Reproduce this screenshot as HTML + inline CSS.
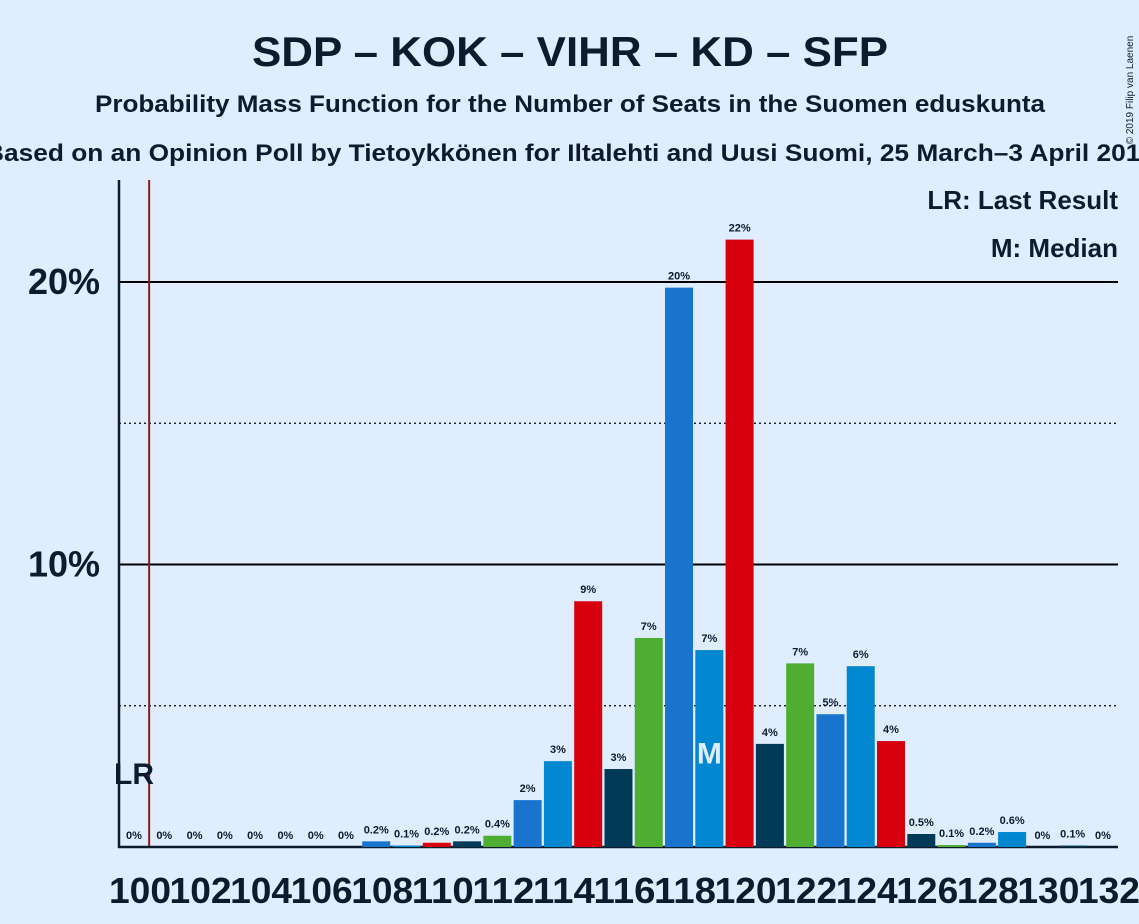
<!DOCTYPE html>
<html><head><meta charset="utf-8"><style>
html,body{margin:0;padding:0;background:#e0edff;}
svg{display:block;font-family:"Liberation Sans",sans-serif;}
</style></head><body>
<svg id="chart" width="1139" height="924" viewBox="0 0 1139 924">
<rect width="1139" height="924" fill="#e0edff"/>
<text x="570" y="66" text-anchor="middle" font-size="42" font-weight="bold" fill="#0d1b2a" textLength="636" lengthAdjust="spacingAndGlyphs">SDP – KOK – VIHR – KD – SFP</text>
<text x="570" y="112" text-anchor="middle" font-size="24" font-weight="bold" fill="#0d1b2a" textLength="950" lengthAdjust="spacingAndGlyphs">Probability Mass Function for the Number of Seats in the Suomen eduskunta</text>
<text x="570" y="161" text-anchor="middle" font-size="24" font-weight="bold" fill="#0d1b2a" textLength="1170" lengthAdjust="spacingAndGlyphs">Based on an Opinion Poll by Tietoykkönen for Iltalehti and Uusi Suomi, 25 March–3 April 2019</text>
<text x="1133" y="90" font-size="10" fill="#0d1b2a" transform="rotate(-90 1133 90)" text-anchor="middle">© 2019 Filip van Laenen</text>
<text x="1118" y="209" text-anchor="end" font-size="26" font-weight="bold" fill="#0d1b2a">LR: Last Result</text>
<text x="1118" y="257" text-anchor="end" font-size="26" font-weight="bold" fill="#0d1b2a">M: Median</text>
<g id="grid"></g>
<g id="bars"></g>
<g id="xlabels"></g>
</svg>
<script>
const seats = [100,101,102,103,104,105,106,107,108,109,110,111,112,113,114,115,116,117,118,119,120,121,122,123,124,125,126,127,128,129,130,131,132];
const probs = [0,0,0,0,0,0,0,0,0.2,0.05,0.15,0.2,0.4,1.66,3.04,8.7,2.76,7.4,19.8,6.97,21.5,3.65,6.5,4.7,6.4,3.75,0.46,0.07,0.15,0.53,0,0.05,0];
const valueLabels = ["0%","0%","0%","0%","0%","0%","0%","0%","0.2%","0.1%","0.2%","0.2%","0.4%","2%","3%","9%","3%","7%","20%","7%","22%","4%","7%","5%","6%","4%","0.5%","0.1%","0.2%","0.6%","0%","0.1%","0%"];
const yTicks = [5,10,15,20];
const yTickLabels = {10:"10%",20:"20%"};
const lastResult = 100.5;
const medianSeat = 119;
const palette = ["#1874cd","#0087d0","#d7000f","#003a57","#4fae32"];

const NS="http://www.w3.org/2000/svg";
const x0=134, step=30.28, y0=847, pxPerPct=28.25;
const xs=s=>x0+(s-100)*step;
const ys=v=>y0-v*pxPerPct;
function mk(tag,attrs,parent,txt){const e=document.createElementNS(NS,tag);for(const k in attrs)e.setAttribute(k,attrs[k]);if(txt!==undefined)e.textContent=txt;parent.appendChild(e);return e;}
const grid=document.getElementById('grid'),bars=document.getElementById('bars'),xl=document.getElementById('xlabels');
yTicks.forEach(t=>{
  const solid=t%10===0;
  const l=mk('line',{x1:119,x2:1118,y1:ys(t),y2:ys(t),stroke:'#000','stroke-width':solid?2:1.3,'stroke-dasharray':solid?'':'2,3'},grid);
  
  
  if(yTickLabels[t]){
    const tx=mk('text',{x:100,y:ys(t)+12,'text-anchor':'end','font-size':36,'font-weight':'bold',fill:'#0d1b2a'},grid,yTickLabels[t]);
    
    
  }
});
seats.forEach((s,i)=>{
  const v=probs[i],cx=xs(s),y=ys(v);
  const r=mk('rect',{x:cx-14,y:y,width:28,height:y0-y,fill:palette[(s-100+2)%5]},bars);
  
  
  const t=mk('text',{x:cx,y:y-8,'text-anchor':'middle','font-size':11,'font-weight':'bold',fill:'#0d1b2a'},bars,valueLabels[i]);
  
  
  if(s===medianSeat){
    const m=mk('text',{x:cx,y:ys(3)+1,'text-anchor':'middle','font-size':30,'font-weight':'bold',fill:'#e0edff'},bars,'M');
    
    
  }
  if((s-100)%2===0){
    const lt=mk('text',{x:cx+6,y:903,'text-anchor':'middle','font-size':36,'font-weight':'bold',fill:'#0d1b2a',textLength:62,lengthAdjust:'spacingAndGlyphs'},xl,String(s));
    
    
  }
});
const lr=mk('line',{x1:xs(lastResult),x2:xs(lastResult),y1:180,y2:y0,stroke:'#8b1a1a','stroke-width':2},grid);


const lrt=mk('text',{x:134,y:784,'text-anchor':'middle','font-size':30,'font-weight':'bold',fill:'#0d1b2a'},grid,'LR');


const ya=mk('line',{x1:119,x2:119,y1:180,y2:y0+1,stroke:'#0d1b2a','stroke-width':2.5},grid);


const xa=mk('line',{x1:118,x2:1118,y1:y0,y2:y0,stroke:'#0d1b2a','stroke-width':2.5},grid);


</script>
</body></html>
